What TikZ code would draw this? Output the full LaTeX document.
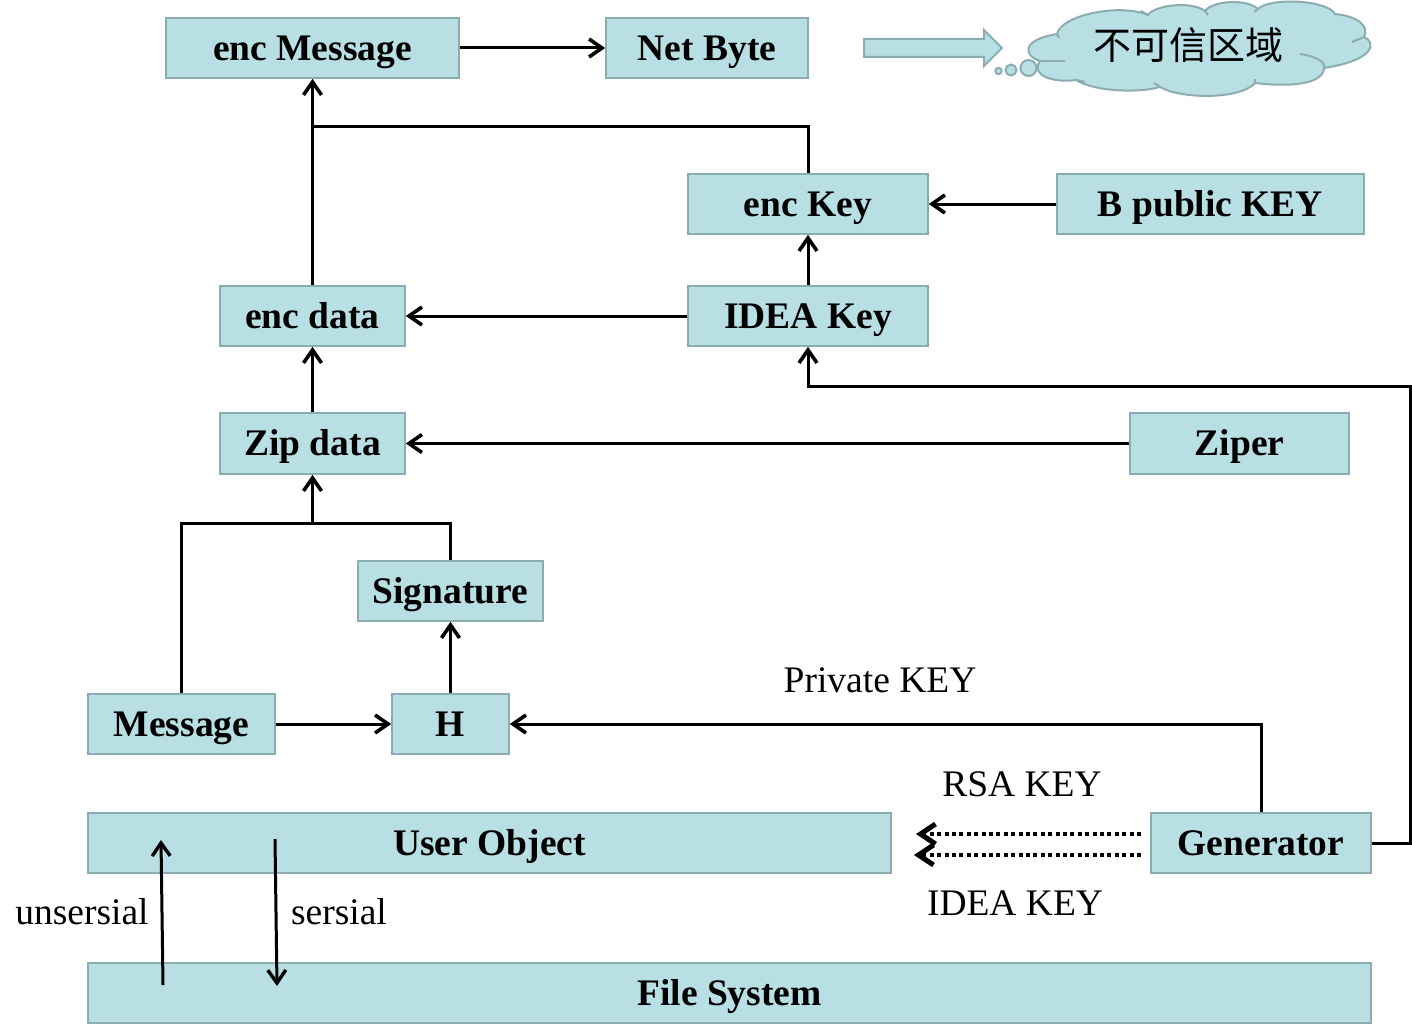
\documentclass[tikz,border=0pt]{standalone}
\usepackage{fontspec}
\setmainfont{Liberation Serif}
\newfontfamily\cjk{Noto Sans CJK SC}
\usetikzlibrary{arrows.meta}
\definecolor{boxfill}{HTML}{B8DFE3}
\definecolor{boxline}{HTML}{8BADB1}
\tikzset{
  x=1pt,y=-1pt,
  pbox/.style={draw=boxline,fill=boxfill,line width=1.6pt,inner sep=0pt,font=\fontsize{37.5}{37.5}\selectfont\bfseries,text height=24.5pt,text depth=0pt},
  lbl/.style={inner sep=0pt,font=\fontsize{37.5}{37.5}\selectfont,text height=24.5pt,text depth=0pt},
  conn/.style={line width=3pt,draw=black,line join=miter},
  arr/.style={conn,-{Straight Barb[length=13pt,width=18pt,line width=3.6pt]}},
  thinarr/.style={line width=3pt,-{Straight Barb[length=13pt,width=18pt,line width=3.4pt]}},
  dotarr/.style={line width=4pt,dash pattern=on 4pt off 3.4pt,-{Straight Barb[length=15pt,width=20pt,line width=5pt]}},
  shapeline/.style={draw=boxline,fill=boxfill,line width=2pt},
}
\newcommand{\pbx}[6]{\node[pbox,minimum width={(#4-#2)*1pt},minimum height={(#5-#3)*1pt}] (#1) at ({(#2+#4)/2},{(#3+#5)/2}) {#6};}
\begin{document}
\begin{tikzpicture}
\useasboundingbox (0,0) rectangle (1412,1025);
\pbx{encmsg}{166}{18}{459}{78}{enc Message}
\pbx{netbyte}{606}{18}{808}{78}{Net Byte}
\pbx{enckey}{688}{174}{928}{234}{enc Key}
\pbx{bpub}{1057}{174}{1364}{234}{B public KEY}
\pbx{encdata}{220}{286}{405}{346}{enc data}
\pbx{ideakey}{688}{286}{928}{346}{IDEA Key}
\pbx{zipdata}{220}{413}{405}{474}{Zip data}
\pbx{ziper}{1130}{413}{1349}{474}{Ziper}
\pbx{signature}{358}{561}{543}{621}{Signature}
\pbx{message}{88}{694}{275}{754}{Message}
\pbx{hnode}{392}{694}{509}{754}{H}
\pbx{userobj}{88}{813}{891}{873}{User Object}
\pbx{generator}{1151}{813}{1371}{873}{Generator}
\pbx{filesys}{88}{963}{1371}{1023}{File System}
% block arrow
\draw[shapeline,line join=miter] (864,39) -- (984,39) -- (984,30) -- (1002,48) -- (984,66) -- (984,57) -- (864,57) -- cycle;
% cloud
\draw[shapeline,line join=round] (1057,34)
  .. controls (1061,15) and (1120,3) .. (1148,15)
  .. controls (1153,6) and (1190,0) .. (1205,11)
  .. controls (1212,1) and (1246,-2) .. (1258,9)
  .. controls (1270,-3) and (1328,0) .. (1335,14)
  .. controls (1356,16) and (1370,25) .. (1364,37)
  .. controls (1376,42) and (1376,60) .. (1324,68)
  .. controls (1323,85) and (1288,87) .. (1255,83)
  .. controls (1240,100) and (1180,99) .. (1160,87)
  .. controls (1140,93) and (1095,92) .. (1076,80)
  .. controls (1054,83) and (1030,76) .. (1040,61)
  .. controls (1024,56) and (1020,40) .. (1057,34) -- cycle;
\draw[draw=boxline,line width=2pt] (1057,34) -- (1059,38);
\draw[draw=boxline,line width=2pt] (1364,37) -- (1352,42);
\draw[draw=boxline,line width=2pt] (1300,54) .. controls (1315,56) and (1326,62) .. (1324,68);
\draw[draw=boxline,line width=2pt] (1040,61) -- (1065,61);
\draw[draw=boxline,line width=2pt] (1160,87) -- (1154,83);
\draw[draw=boxline,line width=2pt] (1255,83) -- (1255,79);
\draw[draw=boxline,line width=2pt] (1076,80) -- (1085,82);
\draw[draw=boxline,line width=2pt] (1148,15) -- (1141,11);
\draw[draw=boxline,line width=2pt] (1205,11) -- (1208,15);
\draw[draw=boxline,line width=2pt] (1258,9) -- (1254,12);
\draw[shapeline] (1028.5,68) circle (8);
\draw[shapeline] (1011,70) circle (5.5);
\draw[shapeline] (998.5,71) circle (3.2);
\node[inner sep=0pt,font=\cjk\fontsize{38}{38}\selectfont] (cloudtext) at (1188,45) {不可信区域};
% connectors
\coordinate (jA) at (312.5,126);
\coordinate (jB) at (312.5,523);
\coordinate (rA) at (1410,843);
\coordinate (rB) at (1410,386);
\coordinate (rC) at (808,386);
\draw[arr] (encmsg.east) -- (netbyte.west);
\draw[arr] (encdata.north) -- (encmsg.south);
\draw[conn] (enckey.north) |- (jA);
\draw[arr] (bpub.west) -- (enckey.east);
\draw[arr] (ideakey.north) -- (enckey.south);
\draw[arr] (ideakey.west) -- (encdata.east);
\draw[arr] (zipdata.north) -- (encdata.south);
\draw[arr] (ziper.west) -- (zipdata.east);
\draw[arr] (generator.east) -- (rA) -- (rB) -- (rC) -- (ideakey.south);
\draw[conn] (message.north) |- (jB) -| (signature.north);
\draw[arr] (jB) -- (zipdata.south);
\draw[arr] (message.east) -- (hnode.west);
\draw[arr] (hnode.north) -- (signature.south);
\draw[arr] (generator.north) |- (hnode.east);
% thin arrows
\coordinate (uA) at (163,985);
\coordinate (uB) at (161,840);
\coordinate (sA) at (275,839);
\coordinate (sB) at (277,986);
\draw[thinarr] (uA) -- (uB);
\draw[thinarr] (sA) -- (sB);
% dotted
\coordinate (dA) at (1141,834);
\coordinate (dB) at (916,834);
\coordinate (dC) at (1141,855);
\coordinate (dD) at (914,855);
\draw[dotarr] (dA) -- (dB);
\draw[dotarr] (dC) -- (dD);
% labels
\node[lbl] (lpriv) at (880,680) {Private KEY};
\node[lbl] (lrsa) at (1022,784) {RSA KEY};
\node[lbl] (lidea) at (1015,903) {IDEA KEY};
\node[lbl] (lun) at (82,912) {unsersial};
\node[lbl] (lser) at (339,912) {sersial};
\end{tikzpicture}
\end{document}
